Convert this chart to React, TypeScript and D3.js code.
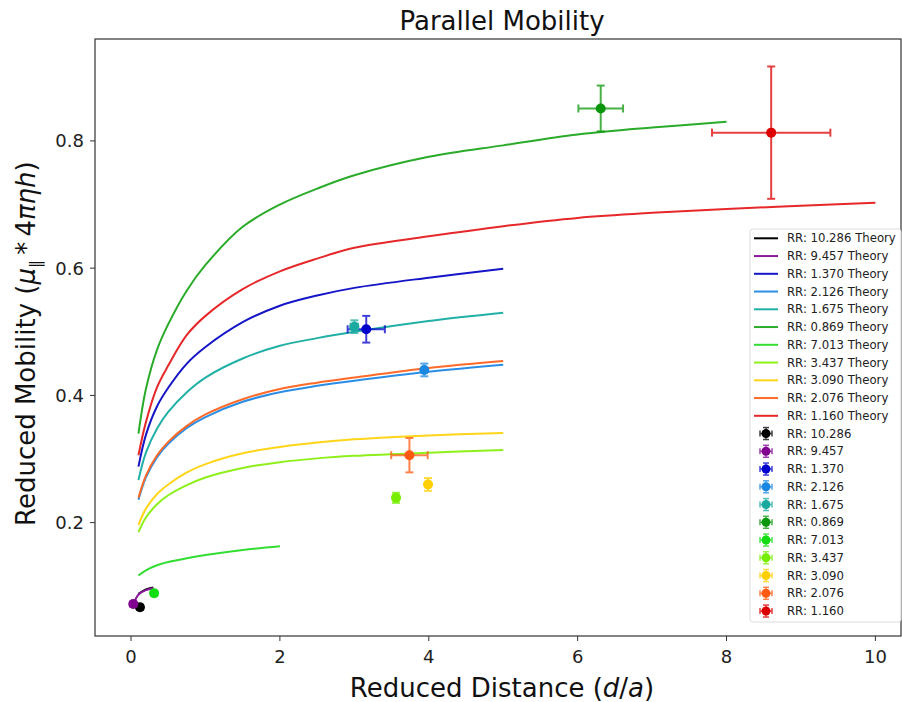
import React from "react";
import * as d3 from "d3";

const W = 902, H = 702;
const M = { left: 95, right: 901, top: 39, bottom: 636 };

const xDomain = [-0.484, 10.344];
const yDomain = [0.0218, 0.9602];
const xTicks = [0, 2, 4, 6, 8, 10];
const yTicks = [0.2, 0.4, 0.6, 0.8];

const labels = ["10.286", "9.457", "1.370", "2.126", "1.675", "0.869", "7.013", "3.437", "3.090", "2.076", "1.160"];
const lineColors = ["#000000", "#8b1a9b", "#1515c8", "#2a8ee6", "#22b0a6", "#2aab2a", "#33dd33", "#8ef01a", "#ffd51a", "#ff6a28", "#e6282a"];
const dotColors = ["#000000", "#800090", "#0000cc", "#1a88e0", "#1aaaa0", "#0a960a", "#11dd11", "#77ee00", "#ffd000", "#ff5a10", "#dd0000"];

// theory curves
const xsShort = [0.1, 0.2, 0.35, 0.5, 0.75, 1, 1.5, 2, 2.5, 3, 4, 5];
const xs8 = [0.1, 0.2, 0.35, 0.5, 0.75, 1, 1.5, 2, 2.5, 3, 4, 5, 6, 7, 8];
const xs10 = [0.1, 0.2, 0.35, 0.5, 0.75, 1, 1.5, 2, 2.5, 3, 4, 5, 6, 7, 8, 9, 10];
const xs2 = [0.1, 0.2, 0.35, 0.5, 0.75, 1, 1.5, 2];
const xsBlack = [0.1, 0.2, 0.3];
const xsPurple = [0.05, 0.1, 0.2, 0.3];

const yBlack = [0.088, 0.095, 0.098];
const yPurple = [0.076, 0.087, 0.094, 0.097];
const yBlue = [0.288, 0.338, 0.383, 0.412, 0.45, 0.476, 0.515, 0.541, 0.557, 0.569, 0.585, 0.599];
const yLightBlue = [0.236, 0.271, 0.303, 0.324, 0.349, 0.366, 0.39, 0.405, 0.415, 0.423, 0.437, 0.448];
const yTeal = [0.267, 0.31, 0.348, 0.374, 0.405, 0.428, 0.458, 0.478, 0.49, 0.5, 0.517, 0.53];
const yGreen = [0.34, 0.41, 0.472, 0.512, 0.565, 0.605, 0.665, 0.7, 0.725, 0.746, 0.775, 0.793, 0.81, 0.821, 0.83];
const yLime = [0.117, 0.125, 0.133, 0.138, 0.144, 0.149, 0.157, 0.163];
const yChartreuse = [0.185, 0.208, 0.229, 0.243, 0.259, 0.271, 0.286, 0.295, 0.301, 0.305, 0.31, 0.314];
const yGold = [0.196, 0.222, 0.245, 0.26, 0.279, 0.292, 0.309, 0.319, 0.326, 0.331, 0.337, 0.341];
const yOrange = [0.239, 0.274, 0.306, 0.327, 0.352, 0.37, 0.394, 0.41, 0.42, 0.428, 0.443, 0.454];
const yRed = [0.306, 0.358, 0.413, 0.447, 0.495, 0.525, 0.567, 0.595, 0.615, 0.632, 0.65, 0.666, 0.679, 0.687, 0.693, 0.698, 0.703];

const theoryX = [xsBlack, xsPurple, xsShort, xsShort, xsShort, xs8, xs2, xsShort, xsShort, xsShort, xs10];
const theoryY = [yBlack, yPurple, yBlue, yLightBlue, yTeal, yGreen, yLime, yChartreuse, yGold, yOrange, yRed];

// measured points
const ptX = [0.12, 0.03, 3.16, 3.94, 3.0, 6.31, 0.31, 3.56, 3.99, 3.74, 8.6];
const ptY = [0.067, 0.072, 0.504, 0.44, 0.508, 0.851, 0.089, 0.239, 0.26, 0.306, 0.813];
const ptXErr = [0.02, 0.02, 0.25, 0.03, 0.05, 0.3, 0.02, 0.03, 0.03, 0.245, 0.795];
const ptYErr = [0.004, 0.004, 0.021, 0.01, 0.01, 0.036, 0.004, 0.008, 0.01, 0.027, 0.104];

const FONT = "DejaVu Sans, sans-serif";

export default function App() {
  const x = d3.scaleLinear().domain(xDomain).range([M.left, M.right]);
  const y = d3.scaleLinear().domain(yDomain).range([M.bottom, M.top]);
  const line = d3.line<[number, number]>().x(d => x(d[0])).y(d => y(d[1])).curve(d3.curveCatmullRom.alpha(0.5));

  const legX = 750, legY = 229, legW = 151, legH = 393, rowH = 17.75, row0 = 238.3;

  return (
    <svg width={W} height={H} style={{ position: "absolute", left: 0, top: 0, background: "#fff" }} fontFamily={FONT}>
      <rect x={0} y={0} width={W} height={H} fill="#fff" />
      {/* theory lines */}
      {theoryX.map((xs, i) => (
        <path key={"t" + i} d={line(xs.map((v, j) => [v, theoryY[i][j]]) as [number, number][]) || ""}
          fill="none" stroke={lineColors[i]} strokeWidth={2} />
      ))}
      {/* error bars */}
      {ptX.map((px, i) => {
        const cx = x(px), cy = y(ptY[i]);
        const x0 = x(px - ptXErr[i]), x1 = x(px + ptXErr[i]);
        const y0 = y(ptY[i] - ptYErr[i]), y1 = y(ptY[i] + ptYErr[i]);
        const c = dotColors[i];
        return (
          <g key={"p" + i}>
            <g stroke={c} strokeWidth={2} opacity={0.75}>
              <line x1={x0} x2={x1} y1={cy} y2={cy} />
              <line x1={cx} x2={cx} y1={y0} y2={y1} />
              <line x1={x0} x2={x0} y1={cy - 4} y2={cy + 4} />
              <line x1={x1} x2={x1} y1={cy - 4} y2={cy + 4} />
              <line x1={cx - 4} x2={cx + 4} y1={y0} y2={y0} />
              <line x1={cx - 4} x2={cx + 4} y1={y1} y2={y1} />
            </g>
            <circle cx={cx} cy={cy} r={5} fill={c} />
          </g>
        );
      })}
      {/* frame */}
      <rect x={M.left} y={M.top} width={M.right - M.left} height={M.bottom - M.top} fill="none" stroke="#333" strokeWidth={1.2} />
      {/* x ticks */}
      {xTicks.map(t => (
        <g key={"xt" + t}>
          <line x1={x(t)} x2={x(t)} y1={M.bottom} y2={M.bottom + 5} stroke="#333" strokeWidth={1} />
          <text x={x(t)} y={M.bottom + 27} textAnchor="middle" fontSize={18} fill="#222">{t}</text>
        </g>
      ))}
      {yTicks.map(t => (
        <g key={"yt" + t}>
          <line x1={M.left - 5} x2={M.left} y1={y(t)} y2={y(t)} stroke="#333" strokeWidth={1} />
          <text x={M.left - 11} y={y(t) + 6.5} textAnchor="end" fontSize={18} fill="#222">{t.toFixed(1)}</text>
        </g>
      ))}
      {/* title & labels */}
      <text x={502} y={30} textAnchor="middle" fontSize={26} fill="#111">Parallel Mobility</text>
      <text x={502} y={697} textAnchor="middle" fontSize={26} fill="#111">
        Reduced Distance (<tspan fontStyle="italic">d</tspan>/<tspan fontStyle="italic">a</tspan>)
      </text>
      <text transform="translate(35, 526) rotate(-90)" textAnchor="start" fontSize={26} fill="#111">
        Reduced Mobility (<tspan fontStyle="italic">μ</tspan><tspan fontSize={16} dy={6}>∥</tspan><tspan dy={-6}>{"\u2009*\u2009"}4</tspan><tspan fontStyle="italic">πηh</tspan>)
      </text>
      {/* legend */}
      <rect x={legX} y={legY} width={legW} height={legH} rx={3} fill="#fff" fillOpacity={0.85} stroke="#ddd" strokeWidth={1} />
      {labels.map((lab, i) => {
        const ry = row0 + i * rowH;
        return (
          <g key={"lt" + i}>
            <line x1={754} x2={778} y1={ry} y2={ry} stroke={lineColors[i]} strokeWidth={2} />
            <text x={787} y={ry + 4} fontSize={11.7} fill="#222">{`RR: ${lab} Theory`}</text>
          </g>
        );
      })}
      {labels.map((lab, i) => {
        const ry = row0 + (i + 11) * rowH;
        const c = dotColors[i];
        return (
          <g key={"lp" + i}>
            <g stroke={c} strokeWidth={1.5} opacity={0.75}>
              <line x1={760} x2={772} y1={ry} y2={ry} />
              <line x1={766} x2={766} y1={ry - 6} y2={ry + 6} />
              <line x1={760} x2={760} y1={ry - 3} y2={ry + 3} />
              <line x1={772} x2={772} y1={ry - 3} y2={ry + 3} />
              <line x1={763} x2={769} y1={ry - 6} y2={ry - 6} />
              <line x1={763} x2={769} y1={ry + 6} y2={ry + 6} />
            </g>
            <circle cx={766} cy={ry} r={4.5} fill={c} />
            <text x={787} y={ry + 4} fontSize={11.7} fill="#222">{`RR: ${lab}`}</text>
          </g>
        );
      })}
    </svg>
  );
}
